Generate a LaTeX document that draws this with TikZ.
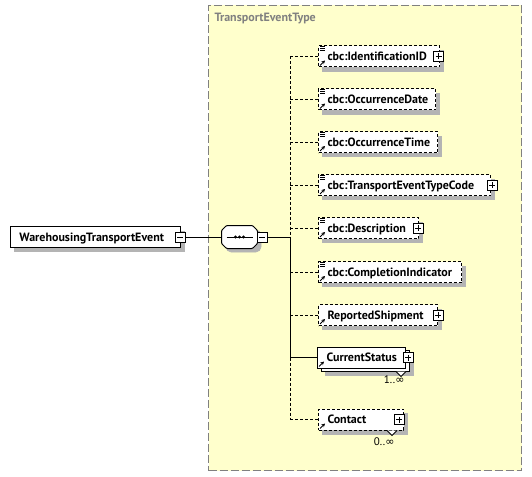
\documentclass[tikz,border=0pt]{standalone}
\usepackage{fontspec}
\setmainfont{PT Sans}
\newfontfamily\symfont{DejaVu Sans}
\usetikzlibrary{calc,arrows.meta}
\definecolor{typefill}{RGB}{255,255,204}
\definecolor{typeline}{RGB}{128,128,128}
\definecolor{shadowgray}{RGB}{180,180,180}
\hyphenpenalty=10000
\exhyphenpenalty=10000

\begin{document}
\begin{tikzpicture}[x=1pt,y=-1pt,line width=1pt,font=\bfseries\fontsize{12}{14}\selectfont]
    \tikzstyle{elem}=[draw, fill=white, rectangle, anchor=west, minimum height=21pt, inner xsep=9pt, inner ysep=0pt, text height=9pt, text depth=1pt, align=left]
    \tikzstyle{opt}=[dash pattern=on 3pt off 2pt]
    \tikzstyle{shadowbox}=[rectangle, fill=shadowgray, draw=shadowgray, line width=0.5pt, inner sep=0pt, minimum height=20.5pt, anchor=north west]
    \tikzstyle{pm}=[draw, fill=white, rectangle, minimum size=10pt, inner sep=0pt, line width=0.8pt]
    \tikzstyle{plus}=[pm, path picture={
        \draw ([xshift=2pt]path picture bounding box.west) -- ([xshift=-2pt]path picture bounding box.east);
        \draw ([yshift=-2pt]path picture bounding box.north) -- ([yshift=2pt]path picture bounding box.south);}]
    \tikzstyle{minus}=[pm, path picture={
        \draw ([xshift=2pt]path picture bounding box.west) -- ([xshift=-2pt]path picture bounding box.east);}]
    \tikzstyle{seq}=[rectangle, minimum width=35pt, minimum height=22pt, inner sep=0pt]
    \tikzstyle{card}=[font=\normalfont\fontsize{11}{13}\selectfont, inner sep=0pt, anchor=north east]

    \useasboundingbox (0,0) rectangle (532,476);

    % the complex type area
    \node[draw=typeline, fill=typefill, dash pattern=on 8pt off 3pt, minimum width=313pt, minimum height=465pt, anchor=north west] (type) at (208,5) {};
    \node[text=typeline, inner sep=0pt, anchor=base west] (type-lbl) at (214,22) {TransportEventType};

    % shadows (name, x, y of the box centre line, width)
    \foreach \name/\x/\y/\w in {main/10/237/170, id/318/56.5/121, date/318/99.5/117, time/318/142/119,
                                ttc/318/185/172, desc/318/228/100, compl/318/272/143, rs/318/315/119,
                                ct/318/419.5/85, cs/321/360.5/88}
        \node[shadowbox, minimum width=\w pt-0.5pt] (\name-sh) at (\x+4.25,\y-6.25) {};
    \node[shadowbox, minimum width=35pt, minimum height=22pt, anchor=center, rounded corners=5pt] (seq-sh) at (243.5,241) {};
    % second box of the repeated element
    \node[draw, fill=white, rectangle, inner sep=0pt, minimum width=88pt, minimum height=21pt, anchor=north west] (cs-back) at (321,350) {};

    % the element and its sequence
    \node[elem, text width=152pt] (main) at (10,237) {WarehousingTransportEvent};
    \node[minus] (main-mn) at ($(main.east)+(-1,0)$) {};
    \node[seq] (seq) at (239.5,237) {};
    \draw[fill=white, rounded corners=1pt] ($(seq.north west)+(5,0)$) -- ($(seq.north east)+(-5,0)$) -- ($(seq.north east)+(0,5)$)
        -- ($(seq.south east)+(0,-5)$) -- ($(seq.south east)+(-5,0)$) -- ($(seq.south west)+(5,0)$)
        -- ($(seq.south west)+(0,-5)$) -- ($(seq.north west)+(0,5)$) -- cycle;
    \draw[line width=0.8pt] ($(seq.west)+(5,0)$) -- ($(seq.east)+(-5,0)$);
    \foreach \dx in {-4,0,4}
        \fill ($(seq.center)+(\dx,0)$) circle (1.6);
    \node[minus] (seq-mn) at (262,237) {};
    \coordinate (spine) at (290,0);

    % Draw the children
    \node[elem, opt, text width=103pt] (id) at (318,56.5) {cbc:IdentificationID};
    \node[elem, opt, text width=99pt] (date) at (318,99.5) {cbc:OccurrenceDate};
    \node[elem, opt, text width=101pt] (time) at (318,142) {cbc:OccurrenceTime};
    \node[elem, opt, text width=154pt] (ttc) at (318,185) {cbc:TransportEventTypeCode};
    \node[elem, opt, text width=82pt] (desc) at (318,228) {cbc:Description};
    \node[elem, opt, text width=125pt] (compl) at (318,272) {cbc:CompletionIndicator};
    \node[elem, opt, text width=101pt] (rs) at (318,315) {ReportedShipment};
    \node[elem, text width=70pt] (cs) at (317,357.5) {CurrentStatus};
    \node[elem, opt, text width=67pt] (ct) at (318,419.5) {Contact};

    % plus boxes
    \foreach \name/\dx in {id/-1.5,ttc/1,desc/-1,rs/0,cs/2,ct/-5}
        \node[plus] (\name-pm) at ($(\name.east)+(\dx,0)$) {};

    % marks for simple types and references
    \foreach \name in {id,date,time,ttc,desc,compl}
        \foreach \dy in {1,3,5}
            \draw[line width=0.7pt] ($(\name.north west)+(2,\dy)$) -- ++(5,0);
    \foreach \name in {id,date,time,ttc,desc,compl,rs,cs,ct}
        \draw[-{Stealth[length=3.5pt,width=3.5pt]}, line width=0.9pt] ($(\name.south west)+(2,-2)$) -- ++(5,-5);

    % occurrence
    \foreach \name/\dx/\dy in {cs/-10/3,ct/-17/0}
        \draw[fill=white, line width=0.8pt] ($(\name.south east)+(\dx,\dy)$) -- ++(5,5) -- ++(5,-5);
    \node[card] (cs-card) at ($(cs.south east)+(-1,7)$) {1..{\symfont ∞}};
    \node[card] (ct-card) at ($(ct.south east)+(-9,7)$) {0..{\symfont ∞}};

    % Connect the element, the sequence and the children
    \draw (main-mn) -- (seq);
    \draw (seq-mn) -- (seq-mn -| spine);
    \draw[opt] (id.west -| spine) -- (seq-mn -| spine);
    \draw (seq-mn -| spine) -- (cs.west -| spine);
    \draw[opt] (cs.west -| spine) -- (ct.west -| spine);
    \foreach \name in {id,date,time,ttc,desc,compl,rs,ct}
        \draw[opt] (\name.west -| spine) -- (\name.west);
    \draw (cs.west -| spine) -- (cs.west);
\end{tikzpicture}
\end{document}
